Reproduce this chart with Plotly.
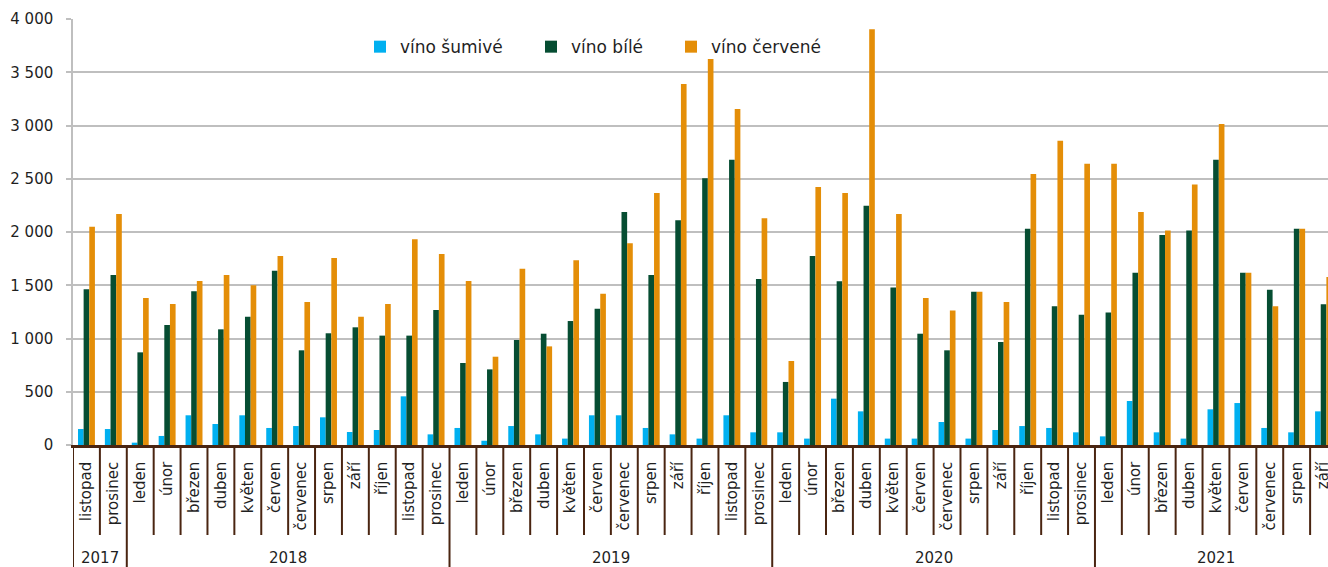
import plotly.graph_objects as go

# ---- data ----
month_names = ["leden", "únor", "březen", "duben", "květen", "červen",
               "červenec", "srpen", "září", "říjen", "listopad", "prosinec"]
months = ["listopad", "prosinec"] + month_names * 3 + month_names[:9]
years = ["2017"] * 2 + ["2018"] * 12 + ["2019"] * 12 + ["2020"] * 12 + ["2021"] * 9

vino_sumive = [150, 150,
               22, 85, 279, 197, 279, 160, 178, 260, 122, 141, 457, 100,
               160, 40, 178, 100, 60, 279, 279, 160, 100, 60, 279, 119,
               119, 60, 435, 316, 60, 60, 216, 60, 141, 178, 160, 119,
               81, 413, 119, 60, 335, 394, 160, 119, 316]
vino_bile = [1462, 1596,
             870, 1127, 1443, 1086, 1205, 1637, 889, 1049, 1105, 1027, 1027, 1268,
             770, 710, 986, 1045, 1164, 1280, 2188, 1596, 2110, 2504, 2679, 1559,
             592, 1775, 1537, 2247, 1480, 1045, 889, 1440, 967, 2031, 1302, 1224,
             1243, 1618, 1972, 2013, 2679, 1618, 1458, 2031, 1321]
vino_cervene = [2050, 2169,
                1380, 1324, 1540, 1596, 1499, 1775, 1343, 1756, 1205, 1324, 1931, 1793,
                1540, 829, 1656, 926, 1734, 1421, 1894, 2366, 3390, 3624, 3155, 2128,
                789, 2423, 2366, 3903, 2169, 1380, 1264, 1440, 1343, 2545, 2857, 2642,
                2642, 2188, 2013, 2445, 3014, 1618, 1302, 2031, 1577]

series_names = ["víno šumivé", "víno bílé", "víno červené"]
series_values = [vino_sumive, vino_bile, vino_cervene]
series_colors = ["#00B0F0", "#064D32", "#E48E08"]

y_ticks = [0, 500, 1000, 1500, 2000, 2500, 3000, 3500, 4000]

# ---- figure ----
FONT = "DejaVu Sans"
TXT = "#1f1f1f"
BROWN = "#4A2511"
GRID = "#BFBFBF"

left, right_px, top, bottom = 73, 0, 19, 122
fig_w, fig_h = 1337, 567          # page window is 1328 wide: the last month is cut off
plot_w = fig_w - left - right_px
plot_h = fig_h - top - bottom

x_idx = list(range(len(months)))
fig = go.Figure()
legend_px = [360, 531, 671]
for i, (name, vals, col) in enumerate(zip(series_names, series_values, series_colors)):
    lg = "legend" if i == 0 else f"legend{i + 1}"
    fig.add_trace(go.Bar(x=x_idx, y=vals, name=name, marker=dict(color=col, line=dict(width=0)),
                         legend=lg))

legend_common = dict(orientation="h", yanchor="middle", y=0.934, xanchor="left",
                     font=dict(family=FONT, size=17, color=TXT),
                     bgcolor="rgba(0,0,0,0)", borderwidth=0)

layout_legends = {}
for i, px in enumerate(legend_px):
    key = "legend" if i == 0 else f"legend{i + 1}"
    layout_legends[key] = dict(x=(px - left) / plot_w, **legend_common)

fig.update_layout(
    width=fig_w, height=fig_h,
    margin=dict(l=left, r=right_px, t=top, b=bottom, pad=0),
    paper_bgcolor="white", plot_bgcolor="white",
    barmode="group", bargap=0.37, bargroupgap=0,
    separators=", ",
    font=dict(family=FONT, size=15, color=TXT),
    showlegend=True,
    **layout_legends,
)

fig.update_yaxes(range=[0, 4000], tickvals=y_ticks, tickformat=",d",
                 showgrid=True, gridcolor=GRID, gridwidth=1.5,
                 showline=True, linecolor=GRID, linewidth=1.5,
                 ticks="outside", ticklen=5, tickcolor=GRID, tickwidth=1.5,
                 zeroline=False, tickfont=dict(family=FONT, size=15, color=TXT),
                 ticklabelstandoff=10)

fig.update_xaxes(range=[-0.5, len(months) - 0.5], tickvals=x_idx, ticktext=months, tickangle=-90,
                 ticks="", showline=True, linecolor=BROWN, linewidth=2.5,
                 showgrid=False, zeroline=False, ticklabelstandoff=8,
                 ticklabeloverflow="allow",
                 tickfont=dict(family=FONT, size=15, color=TXT))

# separators below the axis
month_sep = -90 / plot_h
year_sep = -bottom / plot_h
for k in range(len(months)):
    is_year = k == 0 or years[k] != years[k - 1]
    fig.add_shape(type="line", xref="x", yref="paper", x0=k - 0.5, x1=k - 0.5,
                  y0=0, y1=year_sep if is_year else month_sep,
                  line=dict(color=BROWN, width=2))

# year labels
for yr in sorted(set(years)):
    idx = [i for i, y in enumerate(years) if y == yr]
    fig.add_annotation(x=sum(idx) / len(idx), xref="x", y=-113 / plot_h, yref="paper",
                       text=yr, showarrow=False, yanchor="middle", xanchor="center",
                       font=dict(family=FONT, size=15, color=TXT))

fig.write_html("out.html", config={"displayModeBar": False},
               post_script="document.body.style.margin='0';document.body.style.overflow='hidden';")
